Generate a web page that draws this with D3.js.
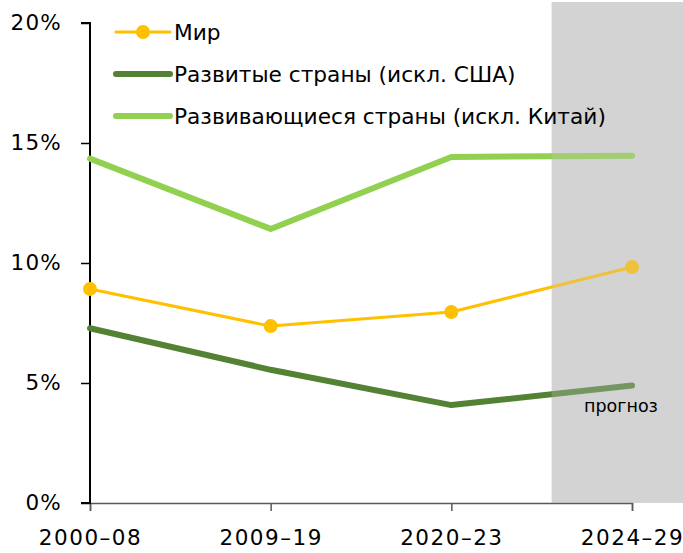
<!DOCTYPE html>
<html>
<head>
<meta charset="utf-8">
<script src="https://cdn.jsdelivr.net/npm/d3@7"></script>
<style>
  body { margin: 0; background: #fff; }
  svg { display: block; font-family: "DejaVu Sans", sans-serif; }
</style>
</head>
<body>
<svg width="683" height="553"></svg>
<script>
// periods on the x axis
const periods = ["2000–08", "2009–19", "2020–23", "2024–29"];
// growth values, %
const world = [8.92, 7.37, 7.96, 9.83];
const developed = [7.28, 5.55, 4.08, 4.9];
const developing = [14.35, 11.42, 14.42, 14.47];
const yTicks = [0, 5, 10, 15, 20];
const legendLabels = ["Мир", "Развитые страны (искл. США)", "Развивающиеся страны (искл. Китай)"];

const svg = d3.select("svg");
const margin = { top: 23, right: 51, bottom: 50, left: 90 };
const width = 683 - margin.left - margin.right;
const height = 553 - margin.top - margin.bottom;

const x = d3.scalePoint().domain(periods).range([0, width]);
const y = d3.scaleLinear().domain([0, 20]).range([height, 0]);

const g = svg.append("g").attr("transform", `translate(${margin.left},${margin.top})`);

// forecast shading (behind lines)
const shadeX = (x("2020–23") + x("2024–29")) / 2 + 10;
g.append("rect")
  .attr("x", shadeX).attr("y", -21)
  .attr("width", 683 - margin.left - shadeX).attr("height", height + 21)
  .attr("fill", "#d9d9d9");

// x axis
const xAxis = g.append("g")
  .attr("transform", `translate(0,${height})`)
  .call(d3.axisBottom(x).tickSize(8).tickPadding(19));
xAxis.select(".domain").attr("stroke", "#595959").attr("stroke-width", 1.5);
xAxis.selectAll(".tick line").attr("stroke", "#595959").attr("stroke-width", 1.5);
xAxis.selectAll("text").attr("font-size", 21.5).attr("letter-spacing", 1.5).attr("fill", "#000")
  .attr("font-family", "DejaVu Sans");

// y axis
const yAxis = g.append("g")
  .call(d3.axisLeft(y).tickValues(yTicks).tickFormat(d => d + "%").tickSize(9).tickPadding(19));
yAxis.select(".domain").attr("stroke", "#000").attr("stroke-width", 2).attr("d", `M-9,0H0V${height}H-9`);
yAxis.selectAll(".tick line").attr("stroke", "#000").attr("stroke-width", 1.5);
yAxis.selectAll("text").attr("font-size", 21.5).attr("letter-spacing", 1.2).attr("fill", "#000")
  .attr("font-family", "DejaVu Sans");

const line = d3.line().x((d, i) => x(periods[i])).y(d => y(d));

const series = [
  { values: developing, color: "#92d050", w: 6, dots: false },
  { values: developed, color: "#548235", w: 6, dots: false },
  { values: world, color: "#ffc000", w: 3, dots: true }
];

series.forEach(s => {
  g.append("path")
    .datum(s.values)
    .attr("d", line)
    .attr("fill", "none")
    .attr("stroke", s.color)
    .attr("stroke-width", s.w)
    .attr("stroke-linecap", "round")
    .attr("stroke-linejoin", "round");
  if (s.dots) {
    g.selectAll(null)
      .data(s.values)
      .enter().append("circle")
      .attr("cx", (d, i) => x(periods[i]))
      .attr("cy", d => y(d))
      .attr("r", 7)
      .attr("fill", s.color);
  }
});

// muted overlay on forecast region
g.append("rect")
  .attr("x", shadeX).attr("y", -21)
  .attr("width", 683 - margin.left - shadeX).attr("height", height + 21)
  .attr("fill", "#c8c8c8").attr("opacity", 0.3);

g.append("text")
  .attr("x", x("2024–29") - 48).attr("y", y(4.9) + 27)
  .attr("font-size", 17.5).attr("fill", "#000")
  .text("прогноз");

// legend
const legendColors = ["#ffc000", "#548235", "#92d050"];
const legend = svg.append("g").attr("transform", "translate(116,32)");
legendLabels.forEach((lab, i) => {
  const row = legend.append("g").attr("transform", `translate(0,${i * 42})`);
  row.append("line")
    .attr("x1", 0).attr("x2", 54)
    .attr("stroke", legendColors[i])
    .attr("stroke-width", i === 0 ? 3 : 6)
    .attr("stroke-linecap", "round");
  if (i === 0) row.append("circle").attr("cx", 27).attr("r", 7).attr("fill", legendColors[i]);
  row.append("text")
    .attr("x", 58).attr("dy", "0.36em")
    .attr("font-size", 21.7).attr("fill", "#000")
    .text(lab);
});
</script>
</body>
</html>
